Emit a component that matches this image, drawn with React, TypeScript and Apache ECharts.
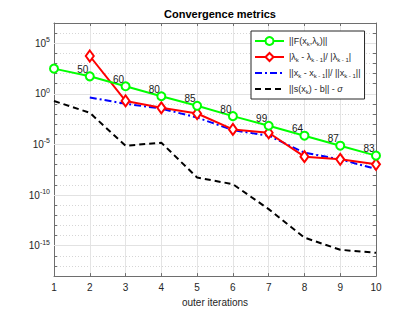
import React, { useEffect, useRef } from "react";
import * as echarts from "echarts";

const iterations = [1, 2, 3, 4, 5, 6, 7, 8, 9, 10];
const residualF = [310, 54, 5.6, 0.58, 0.066, 0.0063, 7.1e-4, 7.4e-5, 7.6e-6, 7.9e-7];
const lambdaChange = [null, 5.5e3, 0.2, 0.042, 0.0115, 3.1e-4, 1.45e-4, 6.3e-7, 3.4e-7, 1.1e-7];
const xChange = [null, 0.44, 0.105, 0.035, 4.6e-3, 2.6e-4, 7.4e-5, 1.55e-6, 3.4e-7, 3.8e-8];
const constraintGap = [0.2, 0.0135, 7.6e-6, 1.5e-5, 5.4e-9, 1.2e-9, 4.1e-12, 6.3e-15, 4e-16, 2e-16];
const innerIterations = [null, 50, 60, 80, 85, 80, 99, 64, 87, 83];
const majorExponents = [-15, -10, -5, 0, 5];

const seriesNames = [
  "||F(x{s|k},λ{s|k})||",
  "|λ{s|k} - λ{s|k - 1}|/ |λ{s|k - 1}|",
  "||x{s|k} - x{s|k - 1}||/ ||x{s|k - 1}||",
  "||s(x{s|k}) - b|| - {i|σ}",
];

const FONT = "Liberation Sans, Arial, sans-serif";
const toLog = (arr: (number | null)[]) =>
  iterations.map((x, i) => [x, arr[i] == null ? null : Math.log10(arr[i] as number)]);

export default function App() {
  const ref = useRef<HTMLDivElement>(null);
  useEffect(() => {
    if (!ref.current) return;
    const chart = echarts.init(ref.current, null, { renderer: "svg" });
    const axisLineColor = "#6e6e6e";
    const textColor = "#262626";
    const sup = { b: { fontSize: 10, color: textColor, fontFamily: FONT }, e: { fontSize: 7, color: textColor, fontFamily: FONT, padding: [0, 0, 7, 0] } };
    const commonY = {
      type: "value",
      min: -18,
      max: 7,
      interval: 1,
      axisLine: { show: true, onZero: false, lineStyle: { color: axisLineColor, width: 1 } },
      axisTick: { show: true, inside: true, length: 3, lineStyle: { color: axisLineColor } },
    };
    const commonX = {
      type: "value",
      min: 1,
      max: 10,
      interval: 1,
      axisLine: { show: true, onZero: false, lineStyle: { color: axisLineColor, width: 1 } },
      axisTick: { show: true, inside: true, length: 3, lineStyle: { color: axisLineColor } },
    };
    const lineData = toLog(residualF).map((d, i) => ({
      value: d,
      label: {
        show: innerIterations[i] != null,
        formatter: String(innerIterations[i] ?? ""),
      },
    }));
    const option: any = {
      animation: false,
      backgroundColor: "#ffffff",
      title: {
        text: "Convergence metrics",
        left: 215,
        top: 3,
        textAlign: "center",
        textStyle: { fontSize: 11, fontWeight: "bold", color: "#000", fontFamily: FONT },
      },
      grid: { left: 54, right: 39, top: 23, bottom: 35, containLabel: false },
      xAxis: [
        {
          ...commonX,
          position: "bottom",
          name: "outer iterations",
          nameLocation: "middle",
          nameGap: 19,
          nameTextStyle: { fontSize: 10, color: textColor, fontFamily: FONT },
          axisLabel: { fontSize: 10, color: textColor, fontFamily: FONT, margin: 6 },
          splitLine: { show: true, lineStyle: { color: "#e4e4e4", width: 1 } },
        },
        { ...commonX, position: "top", axisLabel: { show: false }, splitLine: { show: false } },
      ],
      yAxis: [
        {
          ...commonY,
          position: "left",
          axisLabel: {
            fontSize: 10,
            margin: 4,
            color: textColor,
            fontFamily: FONT,
            formatter: (v: number) => {
              const e = Math.round(v);
              return e % 5 === 0 ? `{b|10}{e|${e}}` : "";
            },
            rich: sup,
          },
          splitLine: { show: true, lineStyle: { color: "#d6d6d6", type: [1, 2], width: 1 } },
        },
        { ...commonY, position: "right", axisLabel: { show: false }, splitLine: { show: false } },
      ],
      legend: {
        orient: "vertical",
        left: 251,
        top: 31,
        padding: [4, 4, 4, 3],
        itemWidth: 29,
        itemHeight: 10,
        itemGap: 4,
        backgroundColor: "#ffffff",
        borderColor: "#262626",
        borderWidth: 1,
        borderRadius: 0,
        data: [
          { name: seriesNames[0] },
          { name: seriesNames[1] },
          { name: seriesNames[2], itemStyle: { opacity: 0 } },
          { name: seriesNames[3], itemStyle: { opacity: 0 } },
        ],
        textStyle: {
          fontSize: 9,
          color: textColor,
          fontFamily: FONT,
          lineHeight: 12,
          rich: {
            s: { fontSize: 6, color: textColor, fontFamily: FONT, padding: [6, 0, 0, 0], lineHeight: 12 },
            i: { fontSize: 9, color: textColor, fontFamily: FONT, fontStyle: "italic", lineHeight: 12 },
          },
        },
      },
      series: [
        {
          type: "line",
          name: seriesNames[3],
          data: toLog(constraintGap),
          symbol: "circle",
          showSymbol: false,
          color: "#000000",
          lineStyle: { color: "#000000", width: 2, type: [6, 4] },
          itemStyle: { color: "#000000", opacity: 0 },
          z: 3,
          markLine: {
            silent: true,
            z: 1,
            symbol: "none",
            label: { show: false },
            emphasis: { disabled: true },
            lineStyle: { color: "#e2e2e2", type: "solid", width: 1 },
            data: majorExponents.map((e) => [{ coord: [1, e] }, { coord: [10, e] }]),
          },
        },
        {
          type: "line",
          name: seriesNames[0],
          data: lineData,
          symbol: "emptyCircle",
          symbolSize: 8,
          color: "#00ff00",
          lineStyle: { color: "#00ff00", width: 2 },
          itemStyle: { color: "#00ff00", borderWidth: 2, borderColor: "#00ff00" },
          label: {
            position: "inside",
            offset: [-7, -7],
            fontSize: 10,
            color: "#1a1a1a",
            fontFamily: FONT,
          },
          labelLine: { show: false },
          z: 5,
        },
        {
          type: "line",
          name: seriesNames[1],
          data: toLog(lambdaChange),
          connectNulls: false,
          symbol: "emptyDiamond",
          symbolSize: [8, 11],
          color: "#ff0000",
          lineStyle: { color: "#ff0000", width: 2 },
          itemStyle: { color: "#ff0000", borderWidth: 2, borderColor: "#ff0000" },
          z: 4,
        },
        {
          type: "line",
          name: seriesNames[2],
          data: toLog(xChange),
          symbol: "circle",
          showSymbol: false,
          color: "#0000ff",
          lineStyle: { color: "#0000ff", width: 2, type: [7, 3, 2, 3] },
          itemStyle: { color: "#0000ff", opacity: 0 },
          z: 3,
        },
      ],
    };
    chart.setOption(option);
    return () => chart.dispose();
  }, []);
  return <div ref={ref} style={{ position: "fixed", left: 0, top: 0, width: 415, height: 312 }} />;
}
